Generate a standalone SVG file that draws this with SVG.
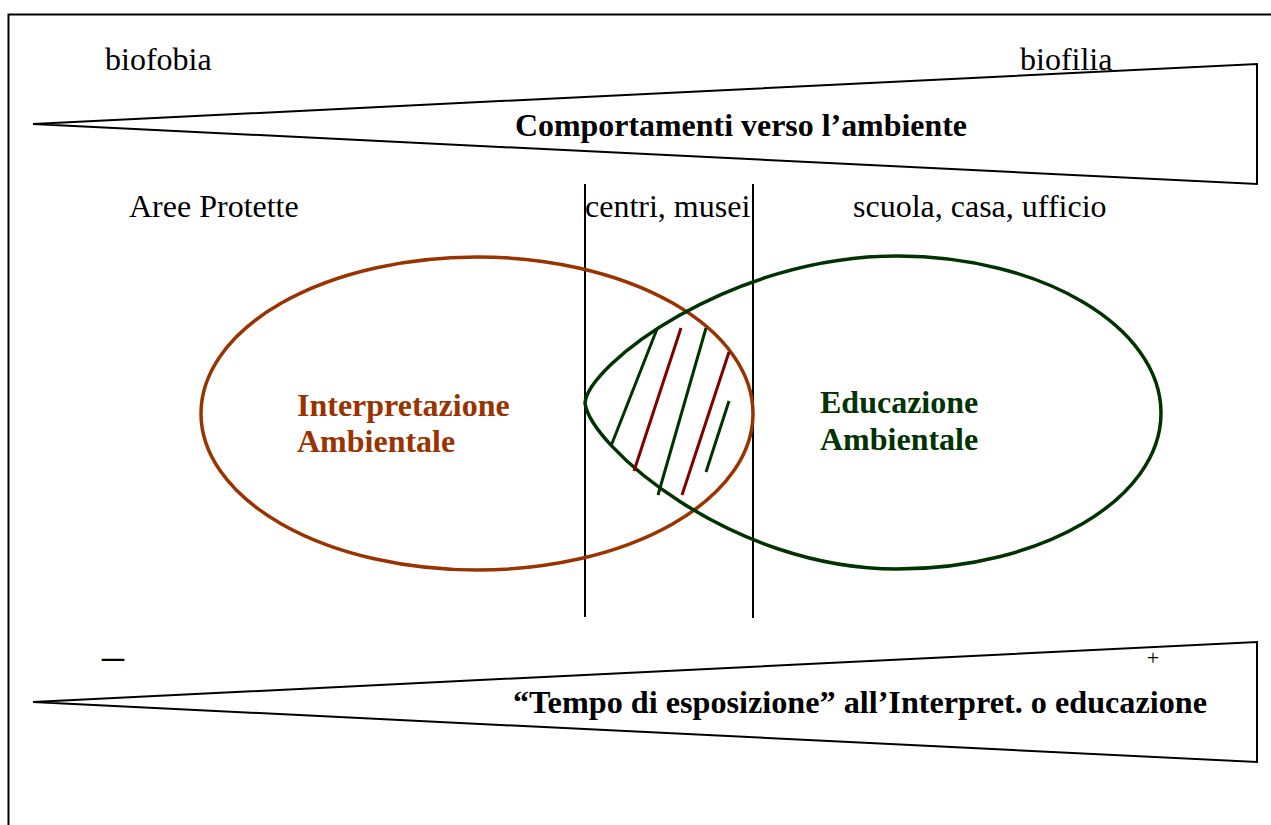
<svg xmlns="http://www.w3.org/2000/svg" width="1271" height="825" viewBox="0 0 1271 825">
<style>
.t{font-family:"Liberation Serif","Times New Roman",serif;font-size:32px;fill:#000}
.b{font-weight:bold}
.line{stroke:#000;stroke-width:2;fill:none}
.wedge{stroke:#000;stroke-width:2;fill:#fff;stroke-linejoin:miter}
.g{stroke:#003300;stroke-width:3}
.r{stroke:#800000;stroke-width:3}
.brown{fill:#993300}
.green{fill:#003300}
</style>
<rect x="8.5" y="14.5" width="1300" height="850" fill="none" stroke="#000" stroke-width="2"/>
<g id="wedge-top">
<polygon class="wedge" points="33,124 1257,64 1257,184"/>
<text class="t b" x="515" y="136" textLength="452" lengthAdjust="spacingAndGlyphs">Comportamenti verso l’ambiente</text>
</g>
<text class="t" x="105" y="70">biofobia</text>
<text class="t" x="1020" y="70">biofilia</text>
<text class="t" x="129" y="217">Aree Protette</text>
<text class="t" x="585" y="217">centri, musei</text>
<text class="t" x="853" y="217">scuola, casa, ufficio</text>
<g id="connectors">
<line class="line" x1="585" y1="184" x2="585" y2="617"/>
<line class="line" x1="753" y1="184" x2="753" y2="618"/>
</g>
<g id="interpretazione">
<ellipse cx="477" cy="413.5" rx="276" ry="156.5" fill="none" stroke="#993300" stroke-width="3.5"/>
<text class="t b brown" x="297" y="416">Interpretazione</text>
<text class="t b brown" x="297" y="452">Ambientale</text>
</g>
<g id="educazione">
<path d="M585,403 C588,365 730,256 897,256 C1042,256 1161,327 1161,413 C1161,499 1042,569 897,569 C730,569 590,445 585,403 Z" fill="none" stroke="#003300" stroke-width="3.5"/>
<text class="t b green" x="820" y="413">Educazione</text>
<text class="t b green" x="820" y="450">Ambientale</text>
</g>
<g id="hatch">
<line class="g" x1="657" y1="329" x2="611" y2="446"/>
<line class="r" x1="681" y1="328" x2="634" y2="471"/>
<line class="g" x1="706" y1="328" x2="658" y2="495"/>
<line class="r" x1="729" y1="352" x2="682" y2="495"/>
<line class="g" x1="729" y1="401" x2="706" y2="472"/>
</g>
<g id="wedge-bottom">
<polygon class="wedge" points="33,702 1257,642 1257,762"/>
<text class="t b" x="513" y="713" textLength="694" lengthAdjust="spacingAndGlyphs">“Tempo di esposizione” all’Interpret. o educazione</text>
</g>
<text class="t b" x="102" y="667" textLength="22" lengthAdjust="spacingAndGlyphs">–</text>
<text class="t" x="1153" y="665" text-anchor="middle" style="font-size:22px">+</text>
</svg>
